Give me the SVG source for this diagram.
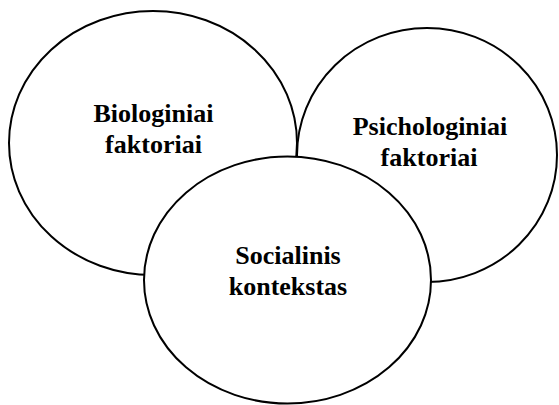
<svg xmlns="http://www.w3.org/2000/svg" width="559" height="405" viewBox="0 0 559 405">
<style>
.node{fill:#fff;stroke:#000;stroke-width:2}
.lbl{font-family:"Liberation Serif","Times New Roman",serif;font-weight:bold;font-size:26px;fill:#000;text-anchor:middle}
</style>
<rect width="559" height="405" fill="#fff"/>
<g id="connectors"></g>
<g id="node-bio">
<ellipse class="node" cx="153" cy="143" rx="144" ry="132"/>
<text class="lbl" x="153.5" y="122">Biologiniai</text>
<text class="lbl" x="153.5" y="153">faktoriai</text>
</g>
<g id="node-psi">
<ellipse class="node" cx="427" cy="155" rx="130" ry="127"/>
<text class="lbl" x="430" y="135">Psichologiniai</text>
<text class="lbl" x="429" y="166">faktoriai</text>
</g>
<g id="node-soc">
<ellipse class="node" cx="287.5" cy="280" rx="143.5" ry="123.5"/>
<text class="lbl" x="288" y="264">Socialinis</text>
<text class="lbl" x="288" y="295">kontekstas</text>
</g>
</svg>
